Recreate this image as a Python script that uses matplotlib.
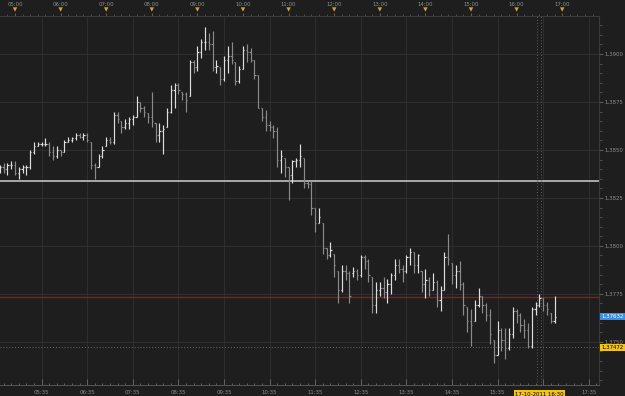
import matplotlib
matplotlib.use("Agg")
import matplotlib.pyplot as plt
import matplotlib.dates as mdates
import matplotlib.ticker as mticker
import matplotlib.transforms as mtransforms
import pandas as pd

# ---------------- data (5-minute OHLC bars) ----------------
start_time = "2011-10-17 04:40"
bar_minutes = 5

high = [1.3842, 1.3843, 1.3843, 1.3844, 1.3844, 1.3841, 1.3842, 1.3842, 1.3850, 1.3854,
        1.3854, 1.3854, 1.3856, 1.3854, 1.3852, 1.3852, 1.3850, 1.3855, 1.3857, 1.3857,
        1.3859, 1.3859, 1.3859, 1.3859, 1.3854, 1.3843, 1.3848, 1.3852, 1.3857, 1.3857,
        1.3870, 1.3870, 1.3865, 1.3866, 1.3867, 1.3868, 1.3878, 1.3875, 1.3873, 1.3869,
        1.3880, 1.3864, 1.3864, 1.3863, 1.3872, 1.3884, 1.3885, 1.3885, 1.3880, 1.3880,
        1.3897, 1.3897, 1.3904, 1.3908, 1.3914, 1.3911, 1.3912, 1.3897, 1.3893, 1.3899,
        1.3904, 1.3906, 1.3896, 1.3894, 1.3904, 1.3905, 1.3903, 1.3897, 1.3889, 1.3872,
        1.3871, 1.3865, 1.3863, 1.3862, 1.3850, 1.3846, 1.3841, 1.3845, 1.3846, 1.3853,
        1.3846, 1.3834, 1.3834, 1.3820, 1.3820, 1.3812, 1.3799, 1.3802, 1.3796, 1.3787,
        1.3790, 1.3790, 1.3787, 1.3789, 1.3788, 1.3795, 1.3795, 1.3793, 1.3784, 1.3781,
        1.3781, 1.3784, 1.3783, 1.3786, 1.3793, 1.3793, 1.3790, 1.3795, 1.3799, 1.3797,
        1.3796, 1.3787, 1.3788, 1.3784, 1.3786, 1.3782, 1.3779, 1.3797, 1.3806, 1.3791,
        1.3790, 1.3792, 1.3781, 1.3768, 1.3767, 1.3772, 1.3778, 1.3774, 1.3770, 1.3767,
        1.3751, 1.3761, 1.3757, 1.3757, 1.3757, 1.3768, 1.3767, 1.3765, 1.3762, 1.3760,
        1.3768, 1.3771, 1.3775, 1.3773, 1.3771, 1.3765, 1.3774]

low = [1.3838, 1.3838, 1.3837, 1.3840, 1.3837, 1.3835, 1.3838, 1.3837, 1.3840, 1.3848,
       1.3852, 1.3852, 1.3852, 1.3847, 1.3845, 1.3846, 1.3847, 1.3849, 1.3854, 1.3854,
       1.3855, 1.3856, 1.3855, 1.3854, 1.3840, 1.3835, 1.3841, 1.3846, 1.3852, 1.3853,
       1.3853, 1.3864, 1.3859, 1.3861, 1.3861, 1.3863, 1.3867, 1.3870, 1.3867, 1.3864,
       1.3862, 1.3854, 1.3854, 1.3848, 1.3862, 1.3869, 1.3872, 1.3879, 1.3876, 1.3870,
       1.3878, 1.3890, 1.3891, 1.3898, 1.3902, 1.3902, 1.3891, 1.3890, 1.3884, 1.3886,
       1.3890, 1.3895, 1.3884, 1.3885, 1.3892, 1.3896, 1.3896, 1.3887, 1.3872, 1.3865,
       1.3860, 1.3860, 1.3856, 1.3841, 1.3838, 1.3836, 1.3824, 1.3833, 1.3841, 1.3841,
       1.3830, 1.3830, 1.3816, 1.3807, 1.3812, 1.3796, 1.3793, 1.3794, 1.3784, 1.3770,
       1.3776, 1.3782, 1.3770, 1.3784, 1.3782, 1.3784, 1.3788, 1.3781, 1.3765, 1.3765,
       1.3774, 1.3773, 1.3770, 1.3775, 1.3782, 1.3786, 1.3781, 1.3786, 1.3790, 1.3786,
       1.3786, 1.3776, 1.3773, 1.3774, 1.3777, 1.3768, 1.3766, 1.3777, 1.3790, 1.3780,
       1.3778, 1.3777, 1.3764, 1.3755, 1.3748, 1.3761, 1.3768, 1.3765, 1.3761, 1.3749,
       1.3739, 1.3743, 1.3745, 1.3741, 1.3746, 1.3752, 1.3760, 1.3755, 1.3752, 1.3747,
       1.3747, 1.3764, 1.3768, 1.3766, 1.3764, 1.3760, 1.3760]

open_ = [1.3840, 1.3841, 1.3840, 1.3842, 1.3842, 1.3838, 1.3840, 1.3841, 1.3841, 1.3849,
         1.3852, 1.3853, 1.3853, 1.3853, 1.3849, 1.3847, 1.3850, 1.3849, 1.3854, 1.3855,
         1.3856, 1.3858, 1.3857, 1.3858, 1.3854, 1.3842, 1.3841, 1.3847, 1.3852, 1.3855,
         1.3854, 1.3868, 1.3865, 1.3862, 1.3864, 1.3866, 1.3867, 1.3875, 1.3872, 1.3869,
         1.3867, 1.3864, 1.3858, 1.3860, 1.3862, 1.3870, 1.3881, 1.3884, 1.3880, 1.3879,
         1.3878, 1.3896, 1.3893, 1.3901, 1.3906, 1.3906, 1.3905, 1.3893, 1.3893, 1.3887,
         1.3897, 1.3899, 1.3896, 1.3886, 1.3892, 1.3902, 1.3901, 1.3897, 1.3889, 1.3872,
         1.3867, 1.3863, 1.3862, 1.3860, 1.3845, 1.3846, 1.3841, 1.3837, 1.3844, 1.3845,
         1.3846, 1.3833, 1.3832, 1.3820, 1.3812, 1.3812, 1.3799, 1.3795, 1.3796, 1.3787,
         1.3777, 1.3787, 1.3786, 1.3786, 1.3787, 1.3785, 1.3794, 1.3792, 1.3784, 1.3769,
         1.3777, 1.3778, 1.3776, 1.3780, 1.3785, 1.3790, 1.3788, 1.3787, 1.3794, 1.3797,
         1.3790, 1.3787, 1.3780, 1.3782, 1.3777, 1.3781, 1.3772, 1.3777, 1.3794, 1.3791,
         1.3785, 1.3787, 1.3780, 1.3768, 1.3761, 1.3761, 1.3769, 1.3774, 1.3769, 1.3764,
         1.3751, 1.3743, 1.3756, 1.3751, 1.3747, 1.3754, 1.3766, 1.3764, 1.3759, 1.3756,
         1.3748, 1.3767, 1.3769, 1.3773, 1.3769, 1.3765, 1.3761]

close = [1.3841, 1.3840, 1.3842, 1.3842, 1.3838, 1.3840, 1.3841, 1.3841, 1.3849, 1.3852,
         1.3853, 1.3853, 1.3853, 1.3849, 1.3847, 1.3850, 1.3849, 1.3854, 1.3855, 1.3856,
         1.3858, 1.3857, 1.3858, 1.3855, 1.3842, 1.3841, 1.3847, 1.3850, 1.3855, 1.3854,
         1.3868, 1.3866, 1.3862, 1.3864, 1.3866, 1.3867, 1.3875, 1.3872, 1.3870, 1.3867,
         1.3865, 1.3858, 1.3860, 1.3861, 1.3870, 1.3881, 1.3884, 1.3881, 1.3879, 1.3876,
         1.3896, 1.3893, 1.3901, 1.3906, 1.3906, 1.3905, 1.3893, 1.3894, 1.3887, 1.3897,
         1.3899, 1.3897, 1.3886, 1.3892, 1.3902, 1.3901, 1.3897, 1.3889, 1.3872, 1.3867,
         1.3863, 1.3862, 1.3860, 1.3845, 1.3847, 1.3841, 1.3837, 1.3844, 1.3845, 1.3847,
         1.3833, 1.3832, 1.3820, 1.3812, 1.3815, 1.3799, 1.3795, 1.3798, 1.3790, 1.3777,
         1.3787, 1.3786, 1.3774, 1.3787, 1.3785, 1.3794, 1.3792, 1.3785, 1.3769, 1.3777,
         1.3778, 1.3776, 1.3780, 1.3785, 1.3790, 1.3788, 1.3787, 1.3794, 1.3797, 1.3790,
         1.3795, 1.3780, 1.3782, 1.3777, 1.3781, 1.3772, 1.3777, 1.3794, 1.3793, 1.3785,
         1.3787, 1.3780, 1.3769, 1.3761, 1.3759, 1.3769, 1.3774, 1.3769, 1.3764, 1.3754,
         1.3743, 1.3756, 1.3751, 1.3747, 1.3754, 1.3766, 1.3764, 1.3759, 1.3756, 1.3748,
         1.3767, 1.3769, 1.3773, 1.3769, 1.3767, 1.3761, 1.3763]

white_level = 1.38337
red_level = 1.37734
last_price = 1.37632
cursor_price = 1.37472
cursor_time = "2011-10-17 16:30"
cursor_times = ["2011-10-17 16:27", "2011-10-17 16:32"]
cursor_label = "17-10-2011 16:30"
view_start = "2011-10-17 04:40:16"
view_end = "2011-10-17 17:48:25"
price_min, price_max = 1.37275, 1.39198

# ---------------- style ----------------
BG = "#1e1e1e"
GRID = "#2d2d2d"
TXT = "#8e8e8e"
UP = "#dedede"
DOWN = "#8a8a8a"
FS = 3.9

fig = plt.figure(figsize=(6.25, 3.96), dpi=100, facecolor=BG)
ax = fig.add_axes([0.0, 11 / 396, 599 / 625, 369 / 396], facecolor=BG)

times = pd.date_range(start_time, periods=len(high), freq=f"{bar_minutes}min")
xs = mdates.date2num(times)
tick = 1.6 / (24 * 60)

colors = [UP if c >= o else DOWN for o, c in zip(open_, close)]
ax.vlines(xs, low, high, colors=colors, linewidth=0.85, zorder=3)
ax.hlines(open_, xs - tick, xs, colors=colors, linewidth=0.85, zorder=3)
ax.hlines(close, xs, xs + tick, colors=colors, linewidth=0.85, zorder=3)

# horizontal levels and crosshair
ax.axhline(white_level, color="#cfcfcf", linewidth=1.1, zorder=2)
ax.axhline(red_level, color="#8e1b1b", linewidth=1.0, zorder=2)
ax.axhline(cursor_price, color="#6a6a6a", linewidth=0.7, linestyle=(0, (1, 2)), zorder=2)
for ct in cursor_times:
    ax.axvline(mdates.date2num(pd.Timestamp(ct)), color="#5e5e5e", linewidth=0.7,
               linestyle=(0, (1, 2)), zorder=2)

ax.set_xlim(mdates.date2num(pd.Timestamp(view_start)), mdates.date2num(pd.Timestamp(view_end)))
ax.set_ylim(price_min, price_max)

# bottom time axis (the 16:35 label is hidden under the cursor label)
hidden = mdates.date2num(pd.Timestamp("2011-10-17 16:35"))


def bottom_fmt(v, pos):
    if abs(v - hidden) < 1e-6:
        return ""
    return mdates.num2date(v).strftime("%H:%M")


ax.xaxis.set_major_locator(mdates.MinuteLocator(byminute=[35]))
ax.xaxis.set_minor_locator(mdates.MinuteLocator(byminute=[5, 15, 25, 45, 55]))
ax.xaxis.set_major_formatter(mticker.FuncFormatter(bottom_fmt))
ax.tick_params(axis="x", which="major", direction="in", length=4.5, width=0.6,
               color="#6a6a6a", labelsize=FS, labelcolor=TXT, pad=3.4)
ax.tick_params(axis="x", which="minor", direction="in", length=1.8, width=0.6, color="#6a6a6a")

# right price axis
ax.yaxis.tick_right()
ax.yaxis.set_major_locator(mticker.MultipleLocator(0.0025))
ax.yaxis.set_minor_locator(mticker.MultipleLocator(0.0005))
ax.yaxis.set_major_formatter(mticker.FuncFormatter(lambda v, p: f"{v:.4f}".replace(".", ",")))
ax.tick_params(axis="y", which="major", direction="out", length=3, width=0.6,
               color="#6a6a6a", labelsize=FS, labelcolor=TXT, pad=1.2)
ax.tick_params(axis="y", which="minor", direction="out", length=1.8, width=0.6, color="#555555")

ax.grid(True, which="major", color=GRID, linewidth=0.8, zorder=0)
ax.set_axisbelow(True)

ax.spines["left"].set_visible(False)
ax.spines["bottom"].set_color("#555555")
ax.spines["bottom"].set_linewidth(0.7)
ax.spines["right"].set_color("#3a3a3a")
ax.spines["top"].set_color("#3a3a3a")
ax.spines["top"].set_linewidth(0.7)

# top time axis
top = ax.secondary_xaxis("top")
top.xaxis.set_major_locator(mdates.HourLocator())
top.xaxis.set_minor_locator(mdates.MinuteLocator(byminute=[10, 20, 30, 40, 50]))
top.xaxis.set_major_formatter(mdates.DateFormatter("%H:%M"))
top.tick_params(which="major", direction="out", length=2.0, width=0.6, color="#6a6a6a",
                labelsize=FS, labelcolor=TXT, pad=4.4)
top.tick_params(which="minor", direction="out", length=1.4, width=0.6, color="#555555")
top.spines["top"].set_color("#555555")
top.spines["top"].set_linewidth(0.7)

hours = pd.date_range("2011-10-17 05:00", "2011-10-17 17:00", freq="1h")
trans_top = mtransforms.blended_transform_factory(ax.transData, ax.transAxes)
ax.scatter(mdates.date2num(hours), [1 + 6.5 / 369] * len(hours), marker="v", s=10,
           color="#d8a521", edgecolors="none", transform=trans_top, clip_on=False, zorder=5)

# price labels on right axis
trans_r = mtransforms.blended_transform_factory(ax.transAxes, ax.transData)
ax.annotate(f"{last_price:.5f}".replace(".", ","), xy=(1.0, last_price), xycoords=trans_r,
            xytext=(1.6, 0), textcoords="offset points", va="center", ha="left",
            fontsize=FS, color="white", annotation_clip=False, zorder=10,
            bbox=dict(boxstyle="square,pad=0.22", fc="#3a8ee6", ec="none"))
ax.annotate(f"{cursor_price:.5f}".replace(".", ","), xy=(1.0, cursor_price), xycoords=trans_r,
            xytext=(1.6, 0), textcoords="offset points", va="center", ha="left",
            fontsize=FS, color="black", annotation_clip=False, zorder=10,
            bbox=dict(boxstyle="square,pad=0.22", fc="#f2c418", ec="none"))

# cursor time label at bottom
trans_b = mtransforms.blended_transform_factory(ax.transData, ax.transAxes)
ax.annotate(cursor_label, xy=(mdates.date2num(pd.Timestamp(cursor_time)), 0),
            xycoords=trans_b, xytext=(0, -6.5), textcoords="offset points",
            va="center", ha="center", fontsize=FS, color="black", annotation_clip=False,
            zorder=10, bbox=dict(boxstyle="square,pad=0.22", fc="#f2c418", ec="none"))

fig.savefig("out.png", dpi=100, facecolor=BG)
